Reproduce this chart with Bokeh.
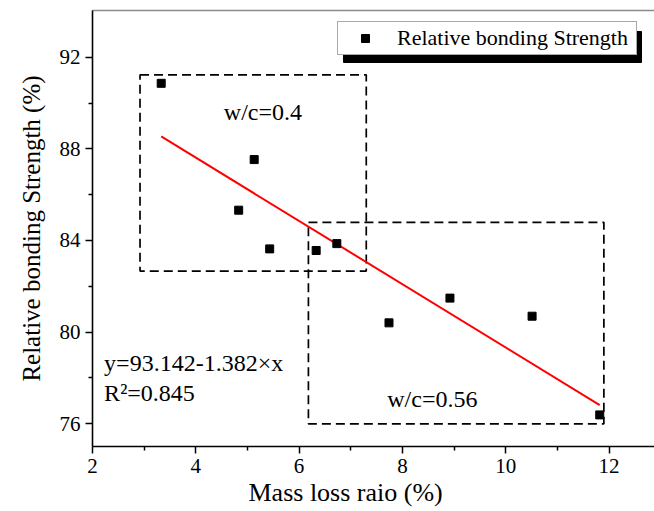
from bokeh.plotting import figure
from bokeh.models import (Legend, LegendItem, Label, LinearAxis, Range1d,
                          FixedTicker, Title, BoxAnnotation)
from bokeh.embed import file_html
from bokeh.resources import INLINE

# ---- data ----
mass_loss = [3.33, 5.13, 4.83, 5.43, 6.33, 6.73, 7.74, 8.92, 10.51, 11.82]
strength = [90.86, 87.53, 85.32, 83.63, 83.56, 83.86, 80.40, 81.48, 80.69, 76.38]

fit_intercept = 93.142
fit_slope = -1.382
fit_r2 = 0.845

group_labels = ["w/c=0.4", "w/c=0.56"]
group_left = [2.92, 6.18]
group_right = [7.30, 11.90]
group_bottom = [82.66, 75.99]
group_top = [91.23, 84.79]

x_ticks = [2, 4, 6, 8, 10, 12]
x_minor = [3, 5, 7, 9, 11]
y_ticks = [76, 80, 84, 88, 92]
y_minor = [78, 82, 86, 90]

series_name = "Relative bonding Strength"
x_title = "Mass loss raio (%)"
y_title = "Relative bonding Strength (%)"

FONT = "Liberation Serif"

p = figure(width=654, height=511, x_range=Range1d(2, 12.88),
           y_range=Range1d(75, 94.04), output_backend="svg",
           toolbar_location=None, min_border_left=92, min_border_right=0,
           min_border_top=10, min_border_bottom=65)
p.xgrid.visible = False
p.ygrid.visible = False
p.outline_line_color = None
p.background_fill_color = "white"
p.border_fill_color = "white"

for ax in (p.xaxis[0], p.yaxis[0]):
    ax.axis_line_width = 1.6
    ax.axis_line_color = "black"
    ax.major_tick_line_width = 1.5
    ax.minor_tick_line_width = 1.5
    ax.major_tick_out = 7
    ax.major_tick_in = 0
    ax.minor_tick_out = 4
    ax.minor_tick_in = 0
    ax.major_label_text_font = FONT
    ax.major_label_text_font_size = "21px"
    ax.major_label_text_color = "black"

p.xaxis.ticker = FixedTicker(ticks=x_ticks, minor_ticks=x_minor)
p.yaxis.ticker = FixedTicker(ticks=y_ticks, minor_ticks=y_minor)
p.xaxis.major_label_standoff = 5
p.yaxis.major_label_standoff = 5

top_axis = LinearAxis(axis_line_color="#8a8a8a", axis_line_width=1.5,
                      ticker=FixedTicker(ticks=[], minor_ticks=[]),
                      major_tick_out=0, major_tick_in=0, minor_tick_out=0,
                      minor_tick_in=0, major_label_standoff=0)
p.add_layout(top_axis, "above")

p.add_layout(Title(text=x_title, align="left", offset=156, standoff=0,
                   text_font=FONT, text_font_size="26px",
                   text_font_style="normal", text_color="black"), "below")
p.add_layout(Title(text=y_title, align="center", offset=-20, standoff=24,
                   text_font=FONT, text_font_size="25px",
                   text_font_style="normal", text_color="black"), "left")

# dashed group boxes
p.quad(left=group_left, right=group_right, bottom=group_bottom, top=group_top,
       fill_color=None, line_color="black", line_dash="9 5", line_width=1.7)

# fitted line from coefficients
fit_x = [min(mass_loss), max(mass_loss)]
fit_y = [fit_intercept + fit_slope * xv for xv in fit_x]
p.line(fit_x, fit_y, line_color="#ff0000", line_width=2)

r = p.scatter(mass_loss, strength, marker="square", size=8, color="black")

# annotations
p.add_layout(Label(x=5.30, y=89.6, text=group_labels[0], text_align="center",
                   text_baseline="alphabetic", text_font=FONT,
                   text_font_size="24px", text_color="black"))
p.add_layout(Label(x=8.58, y=77.08, text=group_labels[1], text_align="center",
                   text_baseline="alphabetic", text_font=FONT,
                   text_font_size="24px", text_color="black"))
p.add_layout(Label(x=2.225, y=78.64,
                   text=f"y={fit_intercept}-{abs(fit_slope)}\u00d7x",
                   text_align="left", text_baseline="alphabetic",
                   text_font=FONT, text_font_size="24px", text_color="black"))
p.add_layout(Label(x=2.225, y=77.33, text=f"R\u00b2={fit_r2}",
                   text_align="left", text_baseline="alphabetic",
                   text_font=FONT, text_font_size="24px", text_color="black"))

# legend with drop shadow (shadow in screen pixels relative to the frame)
LEG_X, LEG_Y, LEG_W, LEG_H = 245, 391, 298, 31
p.add_layout(BoxAnnotation(left=LEG_X + 6, right=LEG_X + LEG_W + 6,
                           bottom=LEG_Y - 7, top=LEG_Y + LEG_H - 7,
                           left_units="screen", right_units="screen",
                           bottom_units="screen", top_units="screen",
                           fill_color="black", fill_alpha=1.0,
                           line_color="black", line_alpha=1.0))
legend = Legend(items=[LegendItem(label=series_name, renderers=[r])],
                location=(LEG_X, LEG_Y), glyph_width=48, glyph_height=20,
                padding=3, margin=0, spacing=0, label_standoff=8,
                label_width=236, label_height=20,
                label_text_font=FONT, label_text_font_size="22px",
                label_text_color="black", border_line_color="#555555",
                border_line_width=1, background_fill_color="white",
                background_fill_alpha=1.0)
p.add_layout(legend)

open("out.html", "w").write(file_html(p, INLINE))
